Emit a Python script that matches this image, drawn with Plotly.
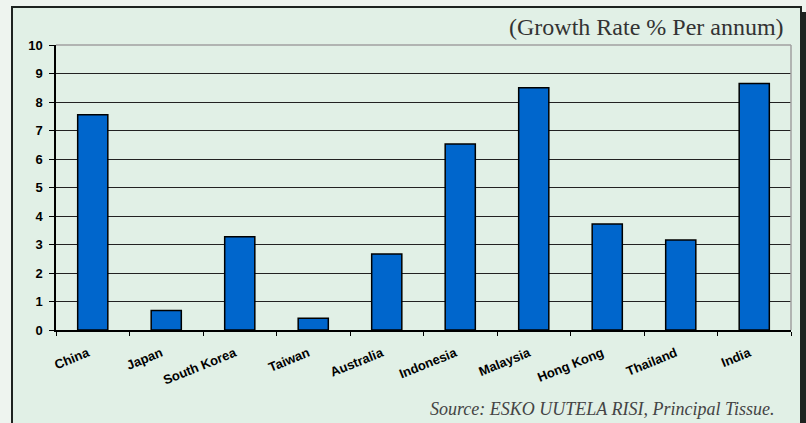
import plotly.graph_objects as go

# Growth rate of tissue demand, % per annum
countries = ['China', 'Japan', 'South Korea', 'Taiwan', 'Australia',
             'Indonesia', 'Malaysia', 'Hong Kong', 'Thailand', 'India']
growth = [7.55, 0.68, 3.27, 0.41, 2.67, 6.53, 8.5, 3.72, 3.16, 8.65]
y_ticks = list(range(0, 11))

W, H = 806, 423
L, R, T, B = 56, 15, 45, 93
pw, ph = W - L - R, H - T - B


def px(x):
    return (x - L) / pw


def py(y):
    return (H - B - y) / ph


fig = go.Figure()
fig.add_trace(go.Bar(
    x=countries,
    y=growth,
    width=0.41,
    marker=dict(color='#0066cc', line=dict(color='#000000', width=1.5)),
    hoverinfo='x+y'
))

# frame with shadow
fig.add_shape(type='rect', xref='paper', yref='paper',
              x0=px(16), x1=px(806), y0=py(440), y1=py(12),
              fillcolor='#1e2320', line=dict(width=0), layer='below')
fig.add_shape(type='rect', xref='paper', yref='paper',
              x0=px(12), x1=px(801), y0=py(436), y1=py(7),
              fillcolor='#e1f0e6', line=dict(color='#1e2320', width=2),
              layer='below')
# grey top / right border of the plot area
fig.add_shape(type='line', xref='paper', yref='paper',
              x0=0, x1=1, y0=1, y1=1,
              line=dict(color='#a0a0a0', width=1.5), layer='above')
fig.add_shape(type='line', xref='paper', yref='paper',
              x0=1, x1=1, y0=0, y1=1,
              line=dict(color='#a0a0a0', width=1.5), layer='above')

fig.add_annotation(text='(Growth Rate % Per annum)', xref='paper', yref='paper',
                   x=px(786), y=py(27), xanchor='right', yanchor='middle',
                   showarrow=False,
                   font=dict(family='Liberation Serif, Times New Roman, serif',
                             size=24, color='#333333'))
fig.add_annotation(text='<i>Source: ESKO UUTELA RISI, Principal Tissue.</i>',
                   xref='paper', yref='paper',
                   x=px(777), y=py(409), xanchor='right', yanchor='middle',
                   showarrow=False,
                   font=dict(family='Liberation Serif, Times New Roman, serif',
                             size=18, color='#444444'))

fig.update_layout(
    width=W, height=H,
    margin=dict(l=L, r=R, t=T, b=B, pad=0),
    paper_bgcolor='#eef4ef',
    plot_bgcolor='#e1f0e6',
    showlegend=False,
    bargap=0.59,
    font=dict(family='Liberation Sans, Arial, sans-serif', color='#000000')
)
fig.update_xaxes(
    type='category',
    tickangle=-22,
    tickson='boundaries',
    ticks='outside', ticklen=4, tickcolor='#000000', tickwidth=1,
    ticklabelstandoff=9,
    ticklabelshift=-5,
    showline=True, linecolor='#000000', linewidth=1.5,
    showgrid=False,
    tickfont=dict(size=13, weight='bold',
                  family='Liberation Sans, Arial, sans-serif')
)
fig.update_yaxes(
    range=[0, 10],
    tickvals=y_ticks,
    ticks='outside', ticklen=5, tickcolor='#000000', tickwidth=1,
    ticklabelstandoff=4,
    showline=True, linecolor='#000000', linewidth=1.5,
    showgrid=True, gridcolor='#222222', gridwidth=1,
    zeroline=False,
    tickfont=dict(size=13, weight='bold',
                  family='Liberation Sans, Arial, sans-serif')
)

# page body has an 8px default margin; remove it so the figure fills the window
fig.write_html('out.html',
               config={'displayModeBar': False},
               post_script="document.body.style.margin='0';")
